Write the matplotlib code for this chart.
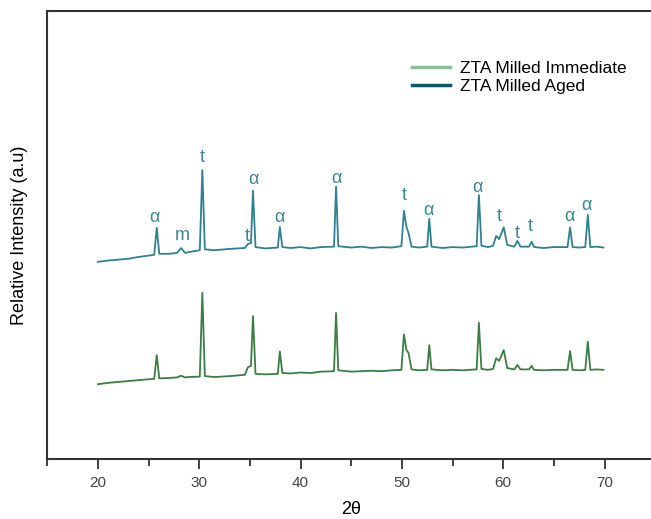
import matplotlib
matplotlib.use("Agg")
import matplotlib.pyplot as plt
from matplotlib.lines import Line2D

plt.rcParams['font.family'] = ['Liberation Sans', 'DejaVu Sans']

# ZTA Milled Aged (upper trace), 2theta vs relative intensity
aged_x = [20.0, 21.0, 22.0, 23.0, 24.0, 25.0, 25.55, 25.8, 26.05, 27.0, 27.8, 28.2, 28.6,
          29.0, 30.05, 30.3, 30.55, 31.5, 33.0, 34.5, 34.8, 35.1, 35.3, 35.55, 36.5,
          37.75, 37.95, 38.2, 39.0, 40.0, 41.0, 42.0, 43.3, 43.5, 43.72, 45.0, 46.0,
          47.0, 48.0, 49.0, 49.95, 50.2, 50.45, 50.65, 50.95, 51.7, 52.5, 52.7, 52.92,
          54.0, 55.0, 56.0, 57.38, 57.6, 57.85, 58.5, 59.0, 59.3, 59.6, 60.05, 60.4,
          61.1, 61.4, 61.7, 62.55, 62.8, 63.05, 64.0, 65.0, 66.35, 66.6, 66.85, 67.5,
          68.1, 68.35, 68.6, 69.2, 69.9]
aged_y = [44.0, 44.3, 44.5, 44.7, 45.1, 45.4, 45.6, 51.6, 45.8, 45.8, 46.0, 47.1, 46.0,
          46.2, 46.6, 64.5, 46.8, 46.6, 46.9, 47.1, 48.0, 48.2, 59.9, 47.3, 47.0,
          47.2, 51.8, 47.3, 47.1, 47.3, 47.0, 47.3, 47.4, 60.8, 47.5, 47.2, 47.4,
          47.1, 47.3, 47.2, 47.5, 55.4, 51.8, 50.5, 47.4, 47.2, 47.4, 53.6, 47.4,
          47.1, 47.3, 47.2, 47.5, 58.9, 47.6, 47.3, 47.6, 49.8, 49.1, 51.7, 47.8,
          47.4, 48.7, 47.4, 47.4, 48.5, 47.3, 47.1, 47.3, 47.3, 51.7, 47.3, 47.2,
          47.3, 54.5, 47.3, 47.4, 47.2]

# ZTA Milled Immediate (lower trace)
imm_x = aged_x
imm_y = [16.7, 17.0, 17.2, 17.4, 17.6, 17.8, 17.9, 23.2, 18.0, 18.1, 18.2, 18.6, 18.2,
         18.3, 18.4, 37.1, 18.5, 18.3, 18.5, 18.8, 20.5, 20.8, 31.9, 19.0, 18.9,
         19.0, 24.0, 19.2, 19.1, 19.3, 19.2, 19.5, 19.6, 32.6, 19.8, 19.5, 19.6,
         19.7, 19.6, 19.8, 19.9, 27.8, 24.3, 23.7, 20.0, 19.8, 19.9, 25.4, 20.0,
         19.8, 19.9, 19.8, 20.0, 30.4, 20.1, 19.9, 20.1, 22.5, 21.9, 24.3, 20.3,
         20.0, 21.0, 20.0, 20.0, 20.8, 19.9, 19.8, 19.9, 19.9, 24.1, 19.9, 19.8,
         19.9, 26.2, 19.9, 20.0, 19.9]

# phase labels on the aged trace
lab_text = ['α', 'm', 't', 't', 'α', 'α', 'α', 't', 'α', 'α', 't', 't', 't', 'α', 'α']
lab_x = [25.6, 28.3, 30.3, 34.7, 35.3, 37.9, 43.5, 50.2, 52.6, 57.5, 59.6, 61.4, 62.7, 66.5, 68.2]
lab_y = [53.8, 50.0, 67.4, 49.6, 62.3, 54.0, 62.7, 58.9, 55.4, 60.7, 54.2, 50.4, 51.8, 54.2, 56.5]

aged_color = '#2f8090'
imm_color = '#3b7d45'

fig = plt.figure(figsize=(6.51, 5.19), dpi=100)
ax = fig.add_axes([0.0727, 0.1156, 0.9337, 0.8632])

ax.plot(imm_x, imm_y, color=imm_color, lw=1.3)
ax.plot(aged_x, aged_y, color=aged_color, lw=1.3)

for t, x, y in zip(lab_text, lab_x, lab_y):
    ax.text(x, y, t, color='#3a8795', fontsize=13, ha='center', va='center')

ax.set_xlim(15, 75)
ax.set_ylim(0, 100)
ax.set_xticks([20, 30, 40, 50, 60, 70])
ax.set_xticks([15, 25, 35, 45, 55, 65, 75], minor=True)
ax.set_yticks([])
ax.tick_params(axis='x', which='major', direction='out', length=7, width=1.3,
               color='#333333', labelsize=11, labelcolor='#444444', pad=5)
ax.tick_params(axis='x', which='minor', direction='out', length=5, width=1.3, color='#333333')
for s in ax.spines.values():
    s.set_color('#333333')
    s.set_linewidth(1.5)

ax.set_xlabel('2θ', fontsize=13, labelpad=8)
ax.set_ylabel('Relative Intensity (a.u)', fontsize=13, labelpad=14)

handles = [Line2D([], [], color='#8cbf98', lw=2.5),
           Line2D([], [], color='#0d5666', lw=2.5)]
ax.legend(handles, ['ZTA Milled Immediate', 'ZTA Milled Aged'], loc='upper left',
          bbox_to_anchor=(0.588, 0.905), frameon=False, fontsize=12.5,
          handlelength=2.2, handletextpad=0.57, labelspacing=0.2, borderaxespad=0)

fig.savefig('out.png', dpi=100)
